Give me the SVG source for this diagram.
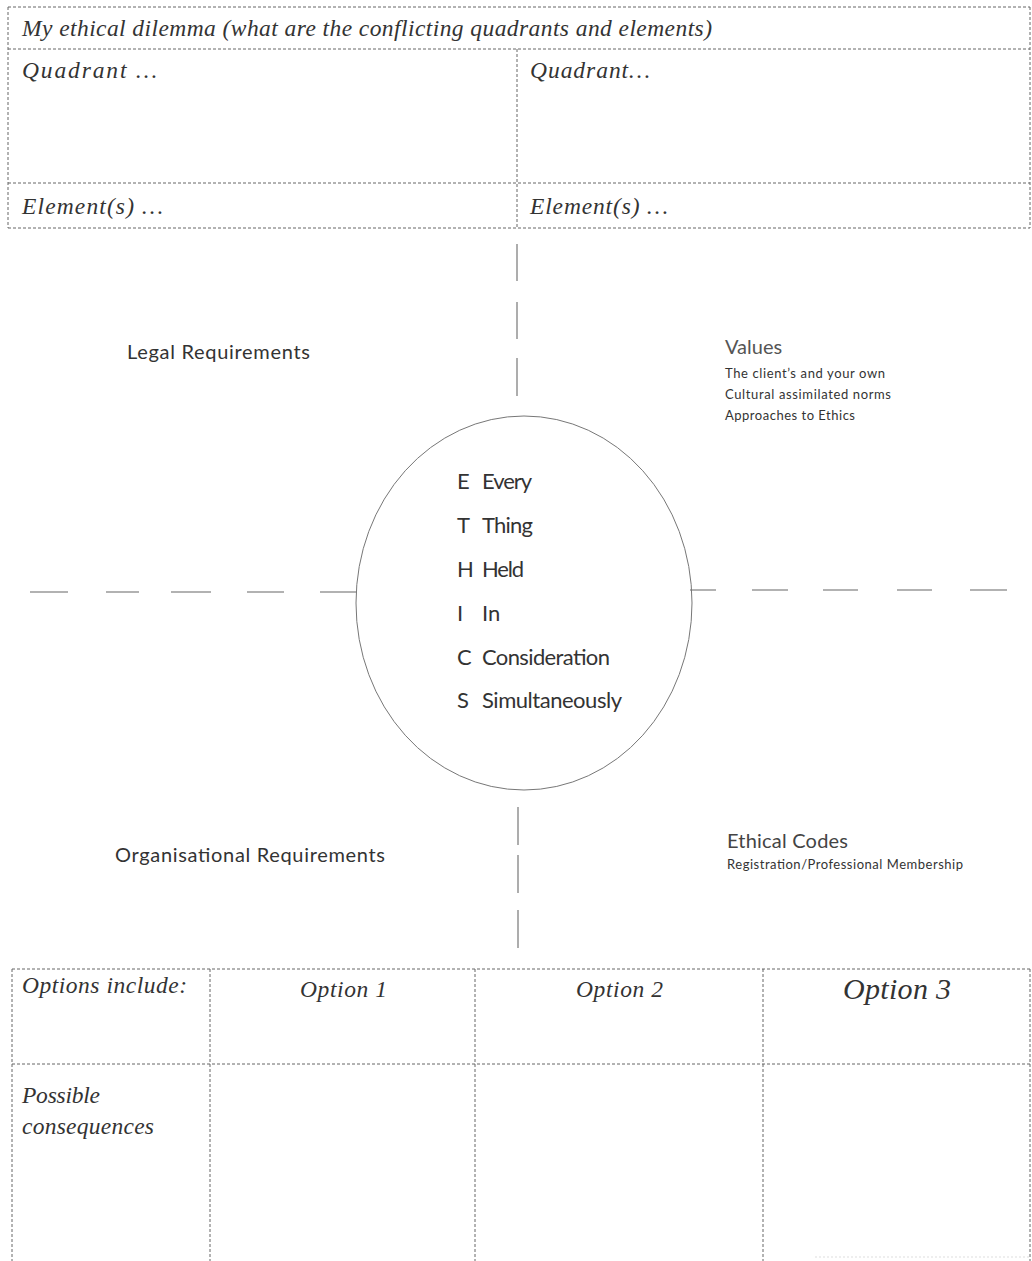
<svg xmlns="http://www.w3.org/2000/svg" width="1032" height="1261" viewBox="0 0 1032 1261">
<style>
.bd{stroke:#666;stroke-width:1;stroke-dasharray:3 2;fill:none}
.ax{stroke:#999;stroke-width:1.6;fill:none}
.ser{font-family:"Liberation Serif",serif;font-style:italic;fill:#333;font-size:23.5px}
.sans{font-family:Lato,"Open Sans",sans-serif;fill:#333}
</style>
<rect width="1032" height="1261" fill="#fff"/>
<g id="dilemma-table">
<line class="bd" x1="8" y1="7" x2="1030" y2="7"/>
<line class="bd" x1="8" y1="49" x2="1030" y2="49"/>
<line class="bd" x1="8" y1="183" x2="1030" y2="183"/>
<line class="bd" x1="8" y1="228" x2="1030" y2="228"/>
<line class="bd" x1="8" y1="7" x2="8" y2="228"/>
<line class="bd" x1="1030" y1="7" x2="1030" y2="228"/>
<line class="bd" x1="517" y1="49" x2="517" y2="228"/>
<text class="ser" x="22" y="36" textLength="690">My ethical dilemma (what are the conflicting quadrants and elements)</text>
<text class="ser" x="22" y="78" textLength="135">Quadrant …</text>
<text class="ser" x="530" y="78" textLength="120">Quadrant…</text>
<text class="ser" x="22" y="214" textLength="141">Element(s) …</text>
<text class="ser" x="530" y="214" textLength="138">Element(s) …</text>
</g>
<g id="connectors">
<path class="ax" d="M517 244V281M517 302V339M517 358V396M518 807V845M518 855V893M518 910V948"/>
<path class="ax" d="M30 592H68M106 592H139M171 592H211M247 592H284M320 592H357M690 590H716M752 590H788M823 590H858M897 590H932M970 590H1007"/>
</g>
<g id="ethics-circle">
<ellipse cx="524" cy="603" rx="168" ry="187" fill="none" stroke="#777" stroke-width="1"/>
<g class="sans" font-size="22">
<text x="457" y="489">E</text><text x="482" y="489" textLength="50">Every</text>
<text x="457" y="533">T</text><text x="482" y="533" textLength="51">Thing</text>
<text x="457" y="577">H</text><text x="482" y="577" textLength="42">Held</text>
<text x="457" y="621">I</text><text x="482" y="621">In</text>
<text x="457" y="665">C</text><text x="482" y="665" textLength="128">Consideration</text>
<text x="457" y="708">S</text><text x="482" y="708" textLength="140">Simultaneously</text>
</g>
</g>
<g id="legal">
<text class="sans" x="127" y="359" font-size="20" textLength="183">Legal Requirements</text>
</g>
<g id="values">
<text class="sans" x="725" y="354" font-size="20" style="fill:#555">Values</text>
<text class="sans" x="725" y="378" font-size="13" textLength="160">The client’s and your own</text>
<text class="sans" x="725" y="399" font-size="13" textLength="166">Cultural assimilated norms</text>
<text class="sans" x="725" y="420" font-size="13" textLength="130">Approaches to Ethics</text>
</g>
<g id="organisational">
<text class="sans" x="115" y="862" font-size="20" textLength="270">Organisational Requirements</text>
</g>
<g id="ethical-codes">
<text class="sans" x="727" y="848" font-size="20" style="fill:#444" textLength="121">Ethical Codes</text>
<text class="sans" x="727" y="869" font-size="13" textLength="236">Registration/Professional Membership</text>
</g>
<g id="options-table">
<line class="bd" x1="12" y1="969" x2="1030" y2="969"/>
<line class="bd" x1="12" y1="1064" x2="1030" y2="1064"/>
<line class="bd" x1="12" y1="969" x2="12" y2="1261"/>
<line class="bd" x1="210" y1="969" x2="210" y2="1261"/>
<line class="bd" x1="475" y1="969" x2="475" y2="1261"/>
<line class="bd" x1="763" y1="969" x2="763" y2="1261"/>
<line class="bd" x1="1030" y1="969" x2="1030" y2="1261"/>
<line x1="815" y1="1257" x2="1030" y2="1257" stroke="#ddd" stroke-width="1" stroke-dasharray="2 2"/>
<text class="ser" x="22" y="993" textLength="165">Options include:</text>
<text class="ser" x="300" y="997" textLength="87">Option 1</text>
<text class="ser" x="576" y="997" textLength="87">Option 2</text>
<text class="ser" x="843" y="999" style="font-size:30px" textLength="108">Option 3</text>
<text class="ser" x="22" y="1103" textLength="78">Possible</text>
<text class="ser" x="22" y="1134" textLength="132">consequences</text>
</g>
</svg>
